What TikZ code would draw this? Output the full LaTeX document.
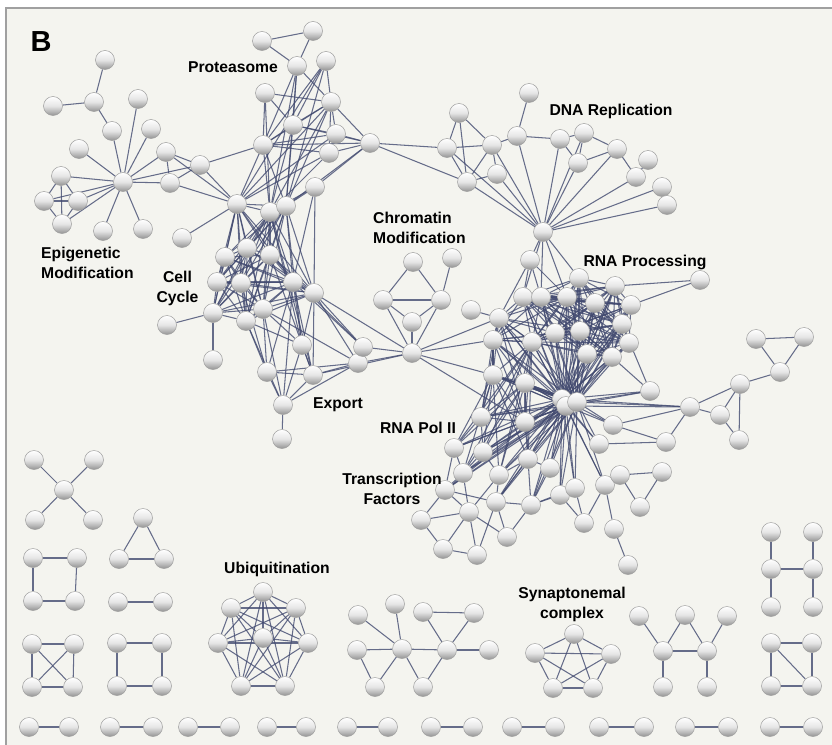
\documentclass[tikz,border=0pt]{standalone}
\usepackage{fontspec}
\setmainfont{Liberation Sans}
\definecolor{bgc}{RGB}{244,244,239}
\definecolor{frm}{RGB}{160,160,160}
\definecolor{edc}{RGB}{66,74,112}
\pgfdeclarelayer{bgl}
\pgfdeclarelayer{edl}
\pgfsetlayers{bgl,edl,main}
\newcommand\cliqueedges[1]{%
  \foreach \a [count=\i] in {#1} {%
    \foreach \b [count=\j] in {#1} {%
      \ifnum\j>\i \draw[ed] (\a) -- (\b);\fi
    }}}
\newcommand\fanedges[2]{%
  \foreach \a in {#1} {\foreach \b in {#2} {\draw[ed] (\a) -- (\b);}}}
\tikzset{
  nd/.style={circle, inner sep=0pt, minimum size=19pt, draw=black!38, line width=0.5pt,
             top color=white, bottom color=black!42, middle color=black!10},
  ed/.style={draw=edc, line width=1.05pt, draw opacity=0.8},
  lab/.style={font=\fontsize{15.7}{19.5}\selectfont\bfseries, inner sep=0pt, text=black}
}
\begin{document}
\begin{tikzpicture}[x=1pt,y=-1pt]
\useasboundingbox (0,0) rectangle (832,744);
\begin{pgfonlayer}{bgl}
\fill[white] (0,0) rectangle (832,744);
\fill[bgc] (6,8) rectangle (840,760);
\draw[frm, line width=2pt] (840,8) -- (6,8) -- (6,760);
\end{pgfonlayer}

% ---------------- nodes ----------------
\foreach \n/\x/\y in {
 e1/105/60, e2/53/106, e3/94/102, e4/112/131, e5/138/99, e6/151/129, e7/79/149,
 e8/166/152, e9/200/165, eh/123/182, e10/170/183, e11/61/176, e12/44/201,
 e13/78/201, e14/62/224, e15/103/231, e16/143/229,
 p1/262/41, p2/313/31, p3/297/66, p4/326/61, p5/265/93, p6/331/102, p7/293/125,
 p8/336/134, p9/263/145, p10/370/143, p11/329/153, p12/315/187,
 c1/237/204, c2/270/212, c3/286/206, c4/182/238, c5/225/257, c6/247/248,
 c7/270/255, c8/217/282, c9/241/283, c10/293/282, c11/314/293, c12/213/313,
 c13/246/321, c14/263/309, c15/167/325, c16/213/360, c17/302/345, c18/267/372,
 c19/313/375, c20/358/363, c21/363/347, c22/283/405, c23/282/439,
 h1/413/262, h2/452/258, h3/383/300, h4/441/300, h5/412/322, ch/412/353,
 d1/447/148, d2/459/113, d3/492/145, d4/517/136, d5/529/93, d6/467/182,
 d7/497/174, d8/560/139, d9/584/133, d10/578/163, d11/617/149, d12/648/160,
 d13/636/177, d14/662/187, d15/667/205, dh/543/232,
 r1/530/260, r2/523/297, r3/541/297, r4/579/278, r5/615/286, r6/567/297,
 r7/595/303, r8/631/305, r9/622/324, r10/555/333, r11/580/331, r12/629/343,
 r13/587/354, r14/612/357, r15/532/342, r16/499/318, r17/493/340, r18/471/310,
 r19/700/280, r20/493/375, r21/525/383,
 s1/650/391, s2/690/407, s3/720/415, s4/740/384, s5/739/440, s6/780/372,
 s7/756/339, s8/804/337, s9/666/442, s10/613/425, s11/599/444,
 t1/481/417, t2/525/422, t3/454/448, t4/483/452, t5/528/459, t6/463/473,
 t7/499/475, t8/445/490, t9/469/512, t10/496/502, t11/531/505, t12/421/520,
 t13/507/537, t14/443/549, t15/477/555, t25/550/468, t16/560/495, t17/575/488,
 t18/605/485, t19/620/475, t20/662/472, t21/584/523, t22/614/529, t23/628/565,
 t24/640/507,
 rh1/562/399, rh3/566/406, rh2/577/402,
 x1/34/460, x2/94/460, x3/64/490, x4/35/520, x5/93/520,
 y1/143/518, y2/119/559, y3/164/559,
 q1/33/558, q2/77/558, q3/33/601, q4/75/601,
 w1/118/602, w2/163/602,
 k1/32/644, k2/74/644, k3/32/687, k4/73/687,
 m1/117/643, m2/162/643, m3/117/686, m4/162/686,
 u1/263/592, u2/231/608, u3/296/608, u4/218/643, u5/308/643, u6/263/638,
 u7/241/686, u8/285/686,
 g1/358/615, g2/395/604, g3/423/612, g4/474/613, g5/357/650, g6/402/649,
 g7/447/650, g8/489/650, g9/375/687, g10/423/687,
 n1/574/634, n2/611/654, n3/593/688, n4/553/688, n5/535/653,
 v1/639/616, v2/685/615, v3/727/616, v4/663/651, v5/707/651, v6/663/687, v7/707/687,
 z1/771/532, z2/813/532, z3/771/569, z4/813/569, z5/771/607, z6/813/607,
 o1/771/643, o2/812/643, o3/771/686, o4/812/686,
 b1/29/727, b2/69/727, b3/110/727, b4/153/727, b5/188/727, b6/230/727,
 b7/267/727, b8/306/727, b9/347/727, b10/388/727, b11/431/727, b12/473/727,
 b13/512/727, b14/555/727, b15/599/727, b16/644/727, b17/685/727, b18/728/727,
 b19/770/727, b20/813/727}
 {\node[nd] (\n) at (\x,\y) {};}

% ---------------- labels ----------------
\node[lab, anchor=base] (lB) at (41,51.5) {\fontsize{29}{30}\selectfont B};
\node[lab, anchor=base] (lprot) at (233,72.5) {Proteasome};
\node[lab, anchor=base] (ldna) at (611,115.5) {DNA Replication};
\node[lab, anchor=north west, align=left] (lchr) at (373,212) {Chromatin\\Modification};
\node[lab, anchor=north west, align=left] (lepi) at (41,247) {Epigenetic\\Modification};
\node[lab, anchor=north, align=center] (lcc) at (177.5,271) {Cell\\Cycle};
\node[lab, anchor=base] (lrnap) at (645,266.5) {RNA Processing};
\node[lab, anchor=base] (lexp) at (338,408.5) {Export};
\node[lab, anchor=base] (lpol) at (418,433.5) {RNA Pol II};
\node[lab, anchor=north, align=center] (ltf) at (392,473) {Transcription\\Factors};
\node[lab, anchor=base] (lubi) at (277,573.5) {Ubiquitination};
\node[lab, anchor=north, align=center] (lsyn) at (572,587) {Synaptonemal\\complex};

% ---------------- edges ----------------
\begin{pgfonlayer}{edl}
% epigenetic
\foreach \a/\b in {e1/e3, e2/e3, e3/e4, e4/eh, e5/eh, e6/eh, e7/eh, e8/eh, e9/eh,
  e10/eh, e11/eh, e12/eh, e13/eh, e14/eh, e15/eh, e16/eh, e11/e12, e11/e13,
  e11/e14, e12/e14, e13/e14, e12/e13, e8/e9, e8/e10, e8/c1, e9/c1, e10/c1,
  e9/e10, c4/c1, e9/p9}
  {\draw[ed] (\a) -- (\b);}
% proteasome
\foreach \a/\b in {p1/p2, p1/p3, p2/p3, p3/p6, p3/p7, p3/p9, p3/c2, p3/c3, p4/p6,
  p4/p7, p4/p9, p4/c1, p4/c3, p5/p6, p5/p7, p5/p9, p5/c2, p6/p7, p6/p8, p6/p10,
  p6/p9, p6/c1, p6/c3, p6/c2, p6/p11, p7/p8, p7/p9, p7/p10, p7/c3, p7/c2, p8/p10,
  p8/p9, p8/c1, p9/p10, p9/c1, p9/c2, p9/c3, p11/p10, p11/p9, p11/c2, p11/c1,
  p12/p10, p12/c3, p12/c2, p12/c10, p10/c3, p12/c11}
  {\draw[ed] (\a) -- (\b);}
% cell cycle
\cliqueedges{c1,c2,c3,c5,c6,c7,c8,c9,c10,c11,c12,c13,c14}
\foreach \a/\b in {c15/c12, c16/c12, c17/c10, c17/c11, c17/c14, c17/c13, c17/c19,
  c17/c22, c17/c3, c17/c2, c18/c13, c18/c14, c18/c10, c18/c22, c18/c19, c18/c20,
  c18/c9, c19/c22, c19/c20, c19/c11, c19/c10, c19/c7, c19/c2, c20/c11, c20/c22,
  c20/c14, c20/ch, c20/c21, c21/c11, c21/c10, c21/ch, c21/c7, c22/c23, c22/c13,
  c22/c14, c22/c10, c11/ch, c19/ch}
  {\draw[ed] (\a) -- (\b);}
% chromatin
\foreach \a/\b in {h1/h3, h1/h4, h3/h4, h3/h5, h4/h5, h2/h4, h5/ch, h3/ch, h4/ch,
  ch/r16, ch/r17, ch/r20, ch/t2, r18/r16}
  {\draw[ed] (\a) -- (\b);}
% DNA replication
\foreach \a/\b in {p10/d1, p10/d6, d1/d2, d1/d3, d1/d6, d2/d3, d2/d6, d3/d4, d3/d6,
  d3/d7, d4/d5, d4/d8, d6/d7, d8/d9, d8/d10, d9/d10, d9/d11, d10/d11, d11/d13,
  d12/d13, dh/d1, dh/d3, dh/d4, dh/d6, dh/d7, dh/d8, dh/d9, dh/d10, dh/d11,
  dh/d13, dh/d14, dh/d15, dh/r1, dh/r2, dh/r3, dh/r6, dh/r4}
  {\draw[ed] (\a) -- (\b);}
% RNA processing
\cliqueedges{r2,r3,r4,r5,r6,r7,r8,r9,r10,r11,r12,r13,r14,r15}
\fanedges{rh1,rh2,rh3}{r2,r3,r4,r5,r6,r7,r8,r9,r10,r11,r12,r13,r14,r15,r16,r17,r20,r21}
\fanedges{r16,r17}{r2,r3,r6,r10,r15,r11}
\cliqueedges{r20,r21,t1,t2,r15,r17,r16}
\foreach \a/\b in {r1/r2, r1/r3, r1/r16, r1/r6, r19/r5, r19/r8, r16/r17, r17/r20}
  {\draw[ed] (\a) -- (\b);}
% hub to lower and right
\fanedges{rh1,rh2,rh3}{s1,s2,s10,s11,t1,t2,t3,t4,t5,t6,t7,t8,t10,t11,t16,t17,t18,t25,r20,r21}
\fanedges{r20,r21,r15}{t3,t4,t5,t6,t7}
\foreach \a/\b in {s10/s2, s10/s9, s11/s9, s2/s9, s2/s3, s2/s4, s4/s3, s4/s5,
  s3/s5, s4/s6, s6/s7, s6/s8, s7/s8, s1/r9, s1/r14}
  {\draw[ed] (\a) -- (\b);}
% transcription
\foreach \a/\b in {t1/t3, t1/t4, t2/t5, t3/t6, t3/t8, t4/t6, t4/t7, t5/t7, t5/t11,
  t6/t8, t6/t9, t7/t9, t7/t10, t8/t9, t8/t12, t8/t10, t9/t12, t12/t14, t9/t14,
  t14/t15, t9/t15, t10/t15, t10/t13, t9/t13, t11/t10, t11/t13, t16/t21, t17/t21,
  t18/t21, t18/t22, t22/t23, t18/t19, t19/t24, t24/t20, t19/t20, t25/t5, t25/t11,
  t16/t11, t17/t11, t2/t4, t5/t10}
  {\draw[ed] (\a) -- (\b);}
% small components
\foreach \a/\b in {x1/x3, x2/x3, x3/x4, x3/x5, y1/y2, y1/y3, y2/y3,
  q1/q2, q1/q3, q2/q4, q3/q4, w1/w2,
  m1/m2, m1/m3, m2/m4, m3/m4,
  g1/g6, g2/g6, g5/g6, g6/g7, g6/g9, g5/g9, g6/g10, g10/g7, g3/g4, g3/g7, g4/g7, g7/g8,
  v1/v4, v2/v4, v2/v5, v3/v5, v4/v5, v4/v6, v5/v7,
  z1/z3, z3/z5, z2/z4, z4/z6, z3/z4,
  o1/o2, o1/o3, o2/o4, o3/o4, o1/o4,
  b1/b2, b3/b4, b5/b6, b7/b8, b9/b10, b11/b12, b13/b14, b15/b16, b17/b18, b19/b20}
  {\draw[ed] (\a) -- (\b);}
\cliqueedges{k1,k2,k3,k4}
\cliqueedges{u1,u2,u3,u4,u5,u6,u7,u8}
\cliqueedges{n1,n2,n3,n4,n5}
\end{pgfonlayer}
\end{tikzpicture}
\end{document}
